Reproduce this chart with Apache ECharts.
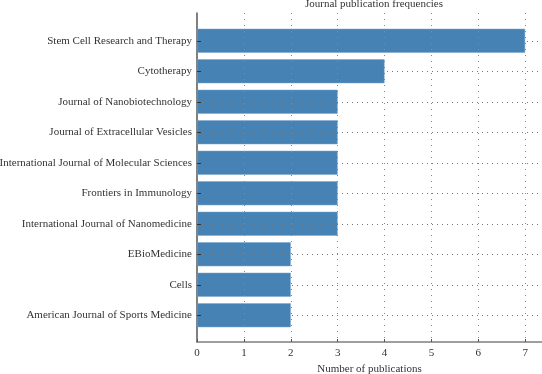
<!DOCTYPE html>
<html>
<head>
<meta charset="utf-8">
<script src="https://cdn.jsdelivr.net/npm/echarts@6/dist/echarts.min.js"></script>
<style>
  html, body { margin: 0; padding: 0; background: #fff; }
  #journalChart { width: 542px; height: 374px; }
</style>
</head>
<body>
<div id="journalChart"></div>
<script>
const journals = [
  'Stem Cell Research and Therapy',
  'Cytotherapy',
  'Journal of Nanobiotechnology',
  'Journal of Extracellular Vesicles',
  'International Journal of Molecular Sciences',
  'Frontiers in Immunology',
  'International Journal of Nanomedicine',
  'EBioMedicine',
  'Cells',
  'American Journal of Sports Medicine'
]
const publications = [7, 4, 3, 3, 3, 3, 3, 2, 2, 2]
const xTicks = [0, 1, 2, 3, 4, 5, 6, 7]

const fontFamily = '"Liberation Serif", "DejaVu Serif", serif'
const xMax = 7.36 // axis runs a bit past 7, cut off at the right edge

const myChart = echarts.init(document.getElementById('journalChart'))
const option = {
  animation: false,
  textStyle: { fontFamily: fontFamily },
  title: {
    text: 'Journal publication frequencies',
    left: 369,
    top: -6,
    textAlign: 'center',
    textStyle: { fontFamily: fontFamily, fontSize: 11, fontWeight: 'normal', color: '#333' },
  },
  grid: [
    // frame: axis lines, x labels, vertical dotted lines
    { left: 197, right: 0, top: 13, bottom: 32, containLabel: false, outerBoundsMode: 'none' },
    // bars
    { left: 197, right: 0, top: 25.5, bottom: 43.5, containLabel: false, outerBoundsMode: 'none' },
  ],
  xAxis: [
    {
      gridIndex: 0,
      type: 'value',
      min: 0,
      max: xMax,
      interval: 1,
      z: 5,
      name: 'Number of publications',
      nameLocation: 'middle',
      nameGap: 20,
      nameTextStyle: { fontFamily: fontFamily, fontSize: 11, color: '#333' },
      axisLine: { show: true, lineStyle: { color: '#808080', width: 1.5 } },
      axisTick: { show: true, inside: true, length: 3, lineStyle: { color: '#555' } },
      axisLabel: {
        margin: 6,
        fontFamily: fontFamily,
        fontSize: 11,
        color: '#333',
        formatter: (v) => (xTicks.includes(v) ? String(v) : ''),
      },
      splitLine: { show: true, lineStyle: { color: '#888', type: [1, 5], width: 1 } },
    },
    {
      gridIndex: 1,
      type: 'value',
      min: 0,
      max: xMax,
      show: false,
      splitLine: { show: false },
    },
  ],
  yAxis: [
    {
      gridIndex: 0,
      type: 'value',
      min: 0,
      max: 1,
      axisLine: { show: true, onZero: false, lineStyle: { color: '#555', width: 1.5 } },
      axisTick: { show: false },
      axisLabel: { show: false },
      splitLine: { show: false },
    },
    {
      gridIndex: 1,
      type: 'category',
      data: journals,
      inverse: true,
      z: 5,
      axisLine: { show: false },
      axisTick: { show: true, inside: true, alignWithLabel: true, length: 4, lineStyle: { color: '#333' } },
      axisLabel: { margin: 5, fontFamily: fontFamily, fontSize: 11, color: '#333' },
      splitLine: { show: true, alignWithLabel: true, lineStyle: { color: '#777', type: [1, 4], width: 1 } },
    },
  ],
  series: [
    {
      name: 'Publications',
      type: 'bar',
      xAxisIndex: 1,
      yAxisIndex: 1,
      data: publications,
      barWidth: 24,
      itemStyle: { color: '#4682b4', borderColor: '#7aa6cf', borderWidth: 0.5 },
    },
  ],
}

myChart.setOption(option)
</script>
</body>
</html>
